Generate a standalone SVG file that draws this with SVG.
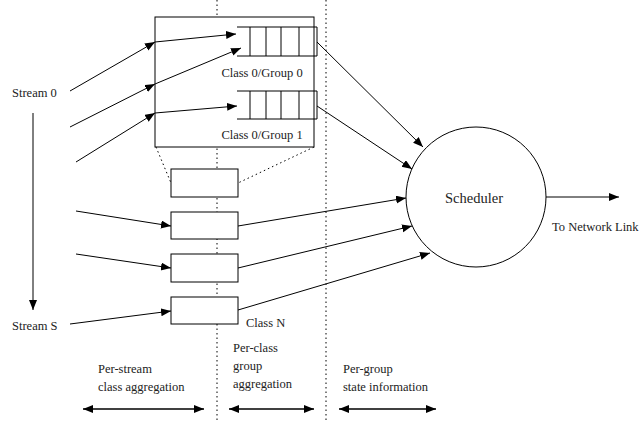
<svg xmlns="http://www.w3.org/2000/svg" width="640" height="423" viewBox="0 0 640 423">
<defs>
<marker id="ah" markerUnits="userSpaceOnUse" markerWidth="11" markerHeight="9" refX="10" refY="4" orient="auto-start-reverse" viewBox="0 0 11 9">
<path d="M0,0 L10,4 L0,8 z" fill="#000"/>
</marker>
<style>
text{font-family:'Liberation Serif',serif;font-size:12.5px;fill:#222}
.ln{stroke:#000;stroke-width:1;fill:none}
.ar{stroke:#000;stroke-width:1;fill:none;marker-end:url(#ah)}
.da{stroke:#000;stroke-width:1.5;fill:none;marker-end:url(#ah);marker-start:url(#ah)}
.dot{stroke:#000;stroke-width:1;fill:none;stroke-dasharray:1.5 3}
.box{fill:#fff;stroke:#000;stroke-width:1}
</style>
</defs>
<rect width="640" height="423" fill="#fff"/>
<g id="dividers">
<line class="dot" x1="217" y1="0" x2="217" y2="423"/>
<line class="dot" x1="326" y1="0" x2="326" y2="423"/>
<line class="dot" x1="156" y1="147" x2="171" y2="183"/>
<line class="dot" x1="314" y1="147" x2="238" y2="183"/>
</g>
<g id="class0-box">
<rect class="box" x="155" y="17" width="159" height="130"/>
</g>
<g font-family="Liberation Serif, serif">
<g id="queue0">
<path class="ln" d="M237,27 H317 V56 H237 M250,27 V56 M266,27 V56 M281,27 V56 M299,27 V56"/>
<text x="262" y="77" text-anchor="middle">Class 0/Group 0</text>
</g>
<g id="queue1">
<path class="ln" d="M237,91 H317 V119 H237 M250,91 V119 M266,91 V119 M281,91 V119 M299,91 V119"/>
<text x="262" y="139" text-anchor="middle">Class 0/Group 1</text>
</g>
<g id="classA"><rect class="box" x="171" y="169" width="67" height="28"/></g>
<g id="classB"><rect class="box" x="171" y="212" width="67" height="27"/></g>
<g id="classC"><rect class="box" x="171" y="254" width="67" height="28"/></g>
<g id="classN"><rect class="box" x="171" y="297" width="67" height="27"/>
<text x="246" y="327">Class N</text></g>
<g id="scheduler">
<circle cx="476" cy="197" r="70" fill="#fff" stroke="#000" stroke-width="1"/>
<text x="474" y="203" text-anchor="middle" style="font-size:14.5px">Scheduler</text>
</g>
<g id="streams">
<text x="12" y="97">Stream 0</text>
<text x="12" y="330">Stream S</text>
</g>
<g id="labels">
<text x="552" y="231">To Network Link</text>
<text x="98" y="373">Per-stream</text>
<text x="98" y="391">class aggregation</text>
<text x="233" y="352">Per-class</text>
<text x="233" y="370">group</text>
<text x="233" y="388">aggregation</text>
<text x="343" y="373">Per-group</text>
<text x="343" y="391">state information</text>
</g>
</g>
<g id="connectors">
<line class="ar" x1="33" y1="113" x2="33" y2="310"/>
<line class="ar" x1="70" y1="91" x2="155" y2="42"/>
<line class="ar" x1="155" y1="42" x2="236" y2="34"/>
<line class="ar" x1="70" y1="127" x2="155" y2="84"/>
<line class="ar" x1="155" y1="84" x2="241" y2="48"/>
<line class="ar" x1="76" y1="162" x2="155" y2="113"/>
<line class="ar" x1="155" y1="113" x2="237" y2="106"/>
<line class="ar" x1="76" y1="211" x2="171" y2="226"/>
<line class="ar" x1="76" y1="254" x2="171" y2="268"/>
<line class="ar" x1="70" y1="324" x2="171" y2="311"/>
<line class="ar" x1="317" y1="42" x2="423" y2="147"/>
<line class="ar" x1="317" y1="106" x2="412" y2="169"/>
<line class="ar" x1="238" y1="226" x2="406" y2="198"/>
<line class="ar" x1="238" y1="268" x2="412" y2="226"/>
<line class="ar" x1="238" y1="310" x2="430" y2="253"/>
<line class="ar" x1="546" y1="197" x2="619" y2="197"/>
<line class="da" x1="83" y1="409" x2="204" y2="409"/>
<line class="da" x1="229" y1="409" x2="314" y2="409"/>
<line class="da" x1="339" y1="409" x2="436" y2="409"/>
</g>
</svg>
